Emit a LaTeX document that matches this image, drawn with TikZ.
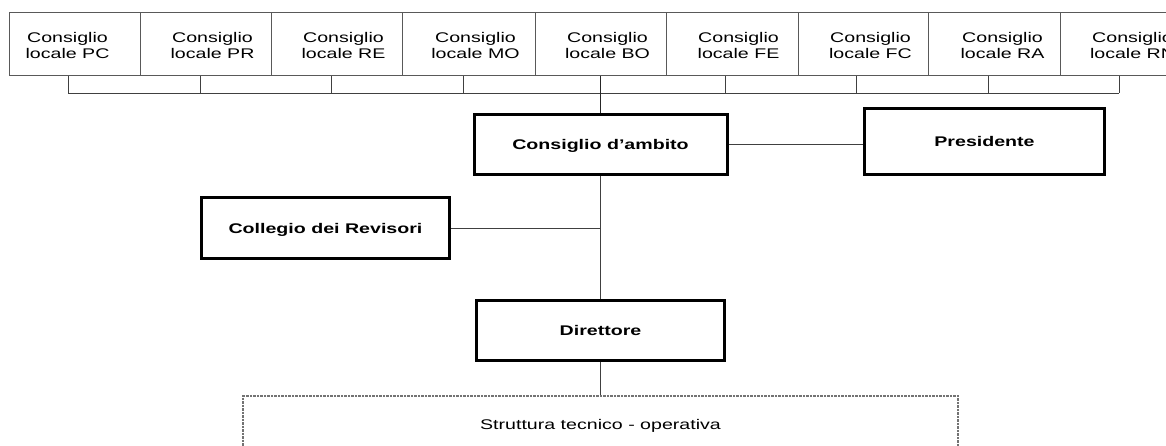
\documentclass[tikz,border=0pt]{standalone}
\usepackage{fontspec}
\setmainfont{Liberation Sans}[FakeStretch=1.4]
\begin{document}
\begin{tikzpicture}[x=1pt,y=-1pt,
  localbox/.style={draw=black!65, line width=1pt, minimum height=63pt, inner sep=0pt},
  ltext/.style={align=center, font=\fontsize{14}{16}\selectfont, inner sep=0pt},
  mainbox/.style={draw=black, line width=3pt, inner sep=0pt, text height=10pt, text depth=0pt,
    font=\fontsize{14}{16}\selectfont\bfseries},
  conn/.style={draw=black!75, line width=1pt},
  strutbox/.style={draw=black!55, line width=2pt, dash pattern=on 2.5pt off 1pt,
    text height=10pt, text depth=0pt, inner xsep=0pt, inner ysep=23pt,
    font=\fontsize{14}{16}\selectfont}]
\useasboundingbox (0,0) rectangle (1166,445);
\clip (0,0) rectangle (1166,445);
% top row of local councils
\node[localbox, minimum width=131pt] (PC) at (74.5,44) {};
\node[localbox, minimum width=131pt] (PR) at (205.5,44) {};
\node[localbox, minimum width=131pt] (RE) at (336.5,44) {};
\node[localbox, minimum width=133pt] (MO) at (468.5,44) {};
\node[localbox, minimum width=131pt] (BO) at (600.5,44) {};
\node[localbox, minimum width=132pt] (FE) at (732,44) {};
\node[localbox, minimum width=130pt] (FC) at (863,44) {};
\node[localbox, minimum width=132pt] (RA) at (994,44) {};
\node[localbox, minimum width=131pt] (RN) at (1125.5,44) {};
\node[ltext] (tPC) at (67.5,45) {Consiglio\\locale PC};
\node[ltext] (tPR) at (212.5,45) {Consiglio\\locale PR};
\node[ltext] (tRE) at (343.5,45) {Consiglio\\locale RE};
\node[ltext] (tMO) at (475.5,45) {Consiglio\\locale MO};
\node[ltext] (tBO) at (607.5,45) {Consiglio\\locale BO};
\node[ltext] (tFE) at (738.5,45) {Consiglio\\locale FE};
\node[ltext] (tFC) at (870.5,45) {Consiglio\\locale FC};
\node[ltext] (tRA) at (1002.5,45) {Consiglio\\locale RA};
\node[ltext] (tRN) at (1132.5,45) {Consiglio\\locale RN};
% main boxes
\node[mainbox, minimum width=253pt, minimum height=60pt] (amb) at (600.5,144.5) {Consiglio d’ambito};
\node[mainbox, minimum width=240pt, minimum height=66pt] (pres) at (984.5,141.5) {Presidente};
\node[mainbox, minimum width=248pt, minimum height=61pt] (col) at (325.5,228) {Collegio dei Revisori};
\node[mainbox, minimum width=248pt, minimum height=60pt] (dir) at (600.5,330.5) {Direttore};
\node[strutbox, anchor=north, minimum width=715pt] (strut) at (600.5,395) {Struttura tecnico - operativa};
% bus connecting the local councils
\coordinate (busL) at (68,93);
\coordinate (busR) at (1119,93);
\draw[conn] (busL) -- (busR);
\draw[conn] ([xshift=-6.5pt]PC.south) -- ([xshift=-6.5pt]PC.south |- busL);
\draw[conn] ([xshift=-5.5pt]PR.south) -- ([xshift=-5.5pt]PR.south |- busL);
\draw[conn] ([xshift=-5.5pt]RE.south) -- ([xshift=-5.5pt]RE.south |- busL);
\draw[conn] ([xshift=-5.5pt]MO.south) -- ([xshift=-5.5pt]MO.south |- busL);
\draw[conn] ([xshift=-7pt]FE.south) -- ([xshift=-7pt]FE.south |- busL);
\draw[conn] ([xshift=-7pt]FC.south) -- ([xshift=-7pt]FC.south |- busL);
\draw[conn] ([xshift=-6pt]RA.south) -- ([xshift=-6pt]RA.south |- busL);
\draw[conn] ([xshift=-6.5pt]RN.south) -- ([xshift=-6.5pt]RN.south |- busL);
\draw[draw=black!85, line width=1.6pt] (BO.south) -- (amb.north);
% other connectors
\draw[conn] (amb.east) -- (amb.east -| pres.west);
\draw[conn] (amb.south) -- (dir.north);
\draw[conn] (col.east) -- (col.east -| amb.south);
\draw[conn] (dir.south) -- (strut.north);
\end{tikzpicture}
\end{document}
